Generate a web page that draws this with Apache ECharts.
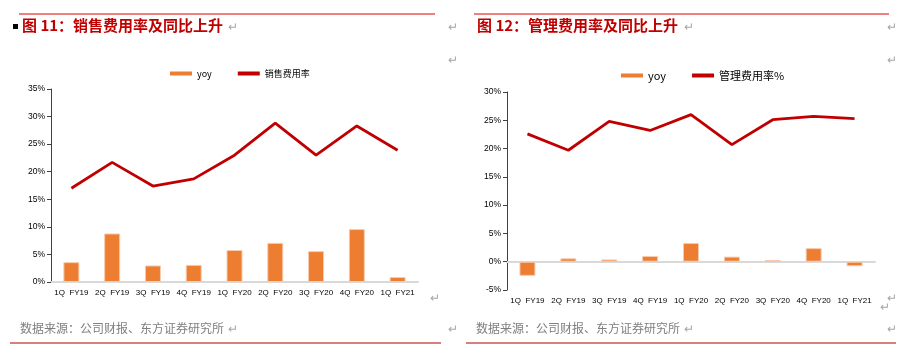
<!DOCTYPE html>
<html><head><meta charset="utf-8">
<script src="https://cdn.jsdelivr.net/npm/echarts@6/dist/echarts.min.js"></script>
<style>html,body{margin:0;padding:0;background:#fff}#c{width:908px;height:354px}</style>
</head><body><div id="c"></div>
<script>
const categories = ['1Q FY19','2Q FY19','3Q FY19','4Q FY19','1Q FY20','2Q FY20','3Q FY20','4Q FY20','1Q FY21'];
const salesYoy = [3.6, 8.8, 3.0, 3.1, 5.8, 7.1, 5.6, 9.6, 0.9];
const salesRate = [17.0, 21.7, 17.4, 18.7, 23.0, 28.8, 23.0, 28.3, 23.9];
const adminYoy = [-2.5, 0.6, 0.4, 1.0, 3.3, 0.9, 0.3, 2.4, -0.8];
const adminRate = [22.6, 19.7, 24.8, 23.2, 26.0, 20.7, 25.1, 25.7, 25.3];
const leftTicks = {min: 0, max: 35, interval: 5};
const rightTicks = {min: -5, max: 30, interval: 5};

const FONT = '"Liberation Sans", Arial, "Noto Sans CJK SC", sans-serif';
const CJK = '"Noto Sans CJK SC", "Liberation Sans", sans-serif';
const RED = '#C00000', ORANGE = '#ED7D31', GRAY = '#7f7f7f', ARROW = '#a6a6a6';

function xAxis(gi) {
  return {
    type: 'category', gridIndex: gi, data: categories,
    axisLine: {show: true, onZero: true, lineStyle: {color: '#d9d9d9', width: 2}},
    axisTick: {show: false},
    axisLabel: {interval: 0, fontSize: 8, color: '#000', fontFamily: FONT, margin: 7,
      formatter: v => v.replace(' ', '  ')}
  };
}
function yAxis(gi, t) {
  return {
    type: 'value', gridIndex: gi, min: t.min, max: t.max, interval: t.interval,
    splitLine: {show: false},
    axisLine: {show: true, lineStyle: {color: '#404040', width: 1}},
    axisTick: {show: true, length: 4, lineStyle: {color: '#404040'}},
    axisLabel: {formatter: '{value}%', fontSize: 8.5, color: '#000', fontFamily: FONT, margin: 6}
  };
}
function arrow(x, y) {
  return {type: 'text', left: x, top: y, style: {text: '↵', fill: ARROW, font: '12px ' + CJK}};
}

const option = {
  animation: false,
  grid: [
    {left: 51, right: 490, top: 89, bottom: 72},
    {left: 507, right: 33, top: 92, bottom: 64}
  ],
  legend: [
    {left: 165, top: 64, itemWidth: 22, itemHeight: 4, itemGap: 26,
      itemStyle: {borderWidth: 0},
      textStyle: {fontSize: 9, color: '#000', fontFamily: CJK},
      data: [{name: 'yoy', icon: 'rect'}, {name: '销售费用率', icon: 'rect'}]},
    {left: 616, top: 65, itemWidth: 22, itemHeight: 4, itemGap: 26,
      itemStyle: {borderWidth: 0},
      textStyle: {fontSize: 11, color: '#000', fontFamily: CJK},
      data: [{name: 'yoy', icon: 'rect'}, {name: '管理费用率%', icon: 'rect'}]}
  ],
  xAxis: [xAxis(0), xAxis(1)],
  yAxis: [yAxis(0, leftTicks), yAxis(1, rightTicks)],
  series: [
    {name: 'yoy', type: 'bar', xAxisIndex: 0, yAxisIndex: 0, data: salesYoy, barWidth: 16,
      itemStyle: {color: ORANGE, borderColor: '#F8CBAD', borderWidth: 1}},
    {name: '销售费用率', type: 'line', xAxisIndex: 0, yAxisIndex: 0, data: salesRate,
      symbol: 'none', lineStyle: {color: RED, width: 2.8}, itemStyle: {color: RED}},
    {name: 'yoy', type: 'bar', xAxisIndex: 1, yAxisIndex: 1, data: adminYoy, barWidth: 16,
      itemStyle: {color: ORANGE, borderColor: '#F8CBAD', borderWidth: 1}},
    {name: '管理费用率%', type: 'line', xAxisIndex: 1, yAxisIndex: 1, data: adminRate,
      symbol: 'none', lineStyle: {color: RED, width: 2.8}, itemStyle: {color: RED}}
  ],
  graphic: [
    {type: 'line', shape: {x1: 19, y1: 14, x2: 435, y2: 14}, style: {stroke: '#e00000', lineWidth: 1}},
    {type: 'line', shape: {x1: 474, y1: 14, x2: 889, y2: 14}, style: {stroke: '#e00000', lineWidth: 1}},
    {type: 'rect', shape: {x: 13, y: 24, width: 5, height: 5}, style: {fill: '#000'}},
    {type: 'text', left: 22, top: 18, style: {text: '图 11：销售费用率及同比上升', fill: RED, font: 'bold 15px ' + CJK}},
    {type: 'text', left: 477, top: 18, style: {text: '图 12：管理费用率及同比上升', fill: RED, font: 'bold 15px ' + CJK}},
    {type: 'text', left: 20, top: 322, style: {text: '数据来源：公司财报、东方证券研究所', fill: GRAY, font: '12px ' + CJK}},
    {type: 'text', left: 476, top: 322, style: {text: '数据来源：公司财报、东方证券研究所', fill: GRAY, font: '12px ' + CJK}},
    {type: 'line', shape: {x1: 10, y1: 343, x2: 441, y2: 343}, style: {stroke: '#b00000', lineWidth: 1}},
    {type: 'line', shape: {x1: 466, y1: 343, x2: 896, y2: 343}, style: {stroke: '#b00000', lineWidth: 1}},
    arrow(228, 20), arrow(448, 20), arrow(448, 53), arrow(430, 291), arrow(448, 322), arrow(228, 322),
    arrow(684, 20), arrow(887, 20), arrow(887, 53), arrow(887, 291), arrow(887, 322), arrow(684, 322),
    arrow(880, 300)
  ]
};
echarts.init(document.getElementById('c')).setOption(option);
</script></body></html>
